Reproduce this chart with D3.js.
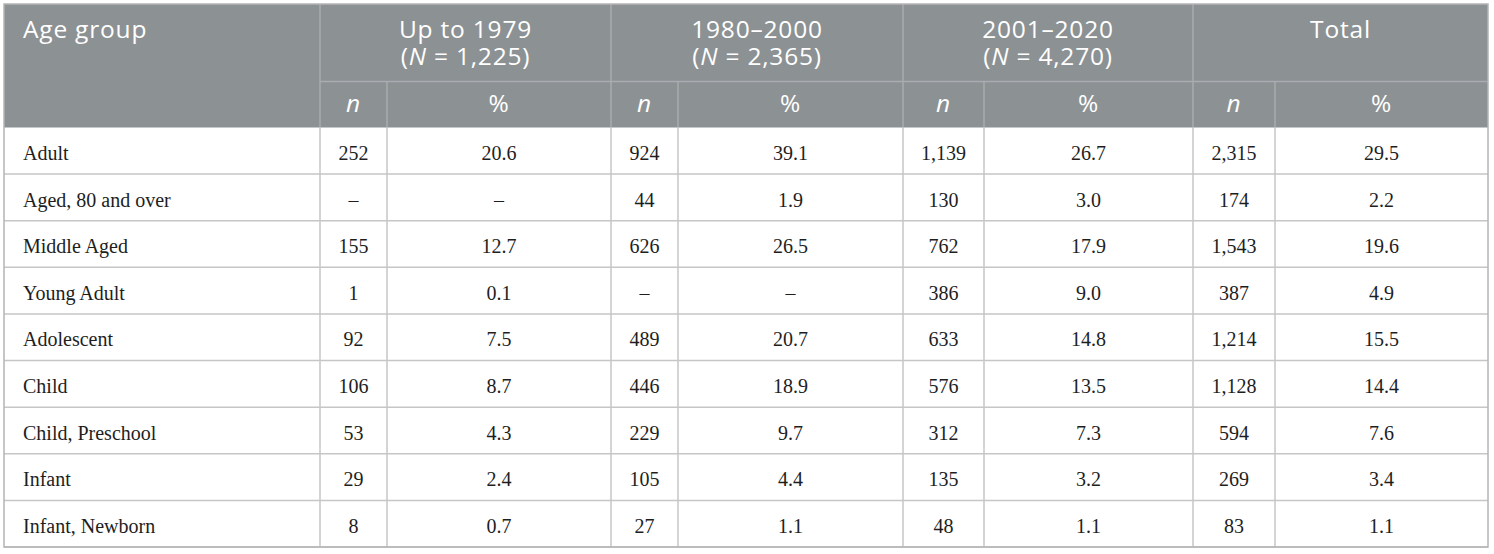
<!DOCTYPE html>
<html>
<head>
<meta charset="utf-8">
<script src="https://cdn.jsdelivr.net/npm/d3@7"></script>
<style>
  body { margin: 0; background: #fff; }
  svg { display: block; }
</style>
</head>
<body>
<script>
// Table contents
const ageGroups = ["Adult", "Aged, 80 and over", "Middle Aged", "Young Adult", "Adolescent",
  "Child", "Child, Preschool", "Infant", "Infant, Newborn"];
const periods = ["Up to 1979", "1980\u20132000", "2001\u20132020", "Total"];
const periodN = ["1,225", "2,365", "4,270", null];
const nUpTo1979 = ["252", "\u2013", "155", "1", "92", "106", "53", "29", "8"];
const pctUpTo1979 = ["20.6", "\u2013", "12.7", "0.1", "7.5", "8.7", "4.3", "2.4", "0.7"];
const n1980 = ["924", "44", "626", "\u2013", "489", "446", "229", "105", "27"];
const pct1980 = ["39.1", "1.9", "26.5", "\u2013", "20.7", "18.9", "9.7", "4.4", "1.1"];
const n2001 = ["1,139", "130", "762", "386", "633", "576", "312", "135", "48"];
const pct2001 = ["26.7", "3.0", "17.9", "9.0", "14.8", "13.5", "7.3", "3.2", "1.1"];
const nTotal = ["2,315", "174", "1,543", "387", "1,214", "1,128", "594", "269", "83"];
const pctTotal = ["29.5", "2.2", "19.6", "4.9", "15.5", "14.4", "7.6", "3.4", "1.1"];

const dataCols = [nUpTo1979, pctUpTo1979, n1980, pct1980, n2001, pct2001, nTotal, pctTotal];

const W = 1494, H = 554;
// column edges (px)
const colEdges = [4, 320, 387, 611, 678, 903, 984, 1193, 1275, 1488];
const tableTop = 4, superBottom = 81.5, headBottom = 127.5, tableBottom = 547;

const rowY = d3.scaleBand()
  .domain(ageGroups)
  .range([headBottom, tableBottom]);

const headFont = "'Open Sans', Lato, sans-serif";
const bodyFont = "'Liberation Serif', 'DejaVu Serif', serif";
const headBg = "#8c9194";
const headLine = "#a9adaf";
const grid = "#c6c6c6";

const svg = d3.select("body").append("svg")
  .attr("width", W)
  .attr("height", H);

function headText(x, y, anchor) {
  return svg.append("text")
    .attr("x", x).attr("y", y)
    .attr("text-anchor", anchor)
    .attr("font-family", headFont).attr("font-size", 24.5)
    .attr("letter-spacing", 0.8)
    .attr("fill", "#fff");
}

// header background
svg.append("rect")
  .attr("x", colEdges[0]).attr("y", tableTop)
  .attr("width", colEdges[9] - colEdges[0])
  .attr("height", headBottom - tableTop)
  .attr("fill", headBg);

// header lines
svg.append("line")
  .attr("x1", colEdges[1]).attr("x2", colEdges[9])
  .attr("y1", superBottom).attr("y2", superBottom)
  .attr("stroke", headLine).attr("stroke-width", 1.5);

[1, 3, 5, 7].forEach(i => {
  svg.append("line")
    .attr("x1", colEdges[i]).attr("x2", colEdges[i])
    .attr("y1", tableTop).attr("y2", headBottom)
    .attr("stroke", headLine).attr("stroke-width", 1.5);
});
[2, 4, 6, 8].forEach(i => {
  svg.append("line")
    .attr("x1", colEdges[i]).attr("x2", colEdges[i])
    .attr("y1", superBottom).attr("y2", headBottom)
    .attr("stroke", headLine).attr("stroke-width", 1.5);
});

// header text
headText(23, 38, "start").text("Age group");

periods.forEach((p, i) => {
  const cx = (colEdges[1 + i * 2] + colEdges[3 + i * 2]) / 2;
  headText(cx, 38, "middle").text(p);
  if (periodN[i]) {
    const t = headText(cx, 65, "middle");
    t.append("tspan").text("(");
    t.append("tspan").attr("font-style", "italic").text("N");
    t.append("tspan").text(" = " + periodN[i] + ")");
  }
  ["n", "%"].forEach((s, j) => {
    headText((colEdges[1 + i * 2 + j] + colEdges[2 + i * 2 + j]) / 2, 111.5, "middle")
      .attr("font-style", s === "n" ? "italic" : "normal")
      .text(s);
  });
});

// body grid
const rows = svg.append("g");
ageGroups.forEach((g, r) => {
  const y = rowY(g);
  rows.append("line")
    .attr("x1", colEdges[0]).attr("x2", colEdges[9])
    .attr("y1", y + rowY.bandwidth()).attr("y2", y + rowY.bandwidth())
    .attr("stroke", grid).attr("stroke-width", 1.5);

  rows.append("text")
    .attr("x", 23).attr("y", y + rowY.bandwidth() / 2)
    .attr("dy", "0.46em")
    .attr("font-family", bodyFont).attr("font-size", 20)
    .attr("fill", "#1e1e1e")
    .text(g);

  dataCols.forEach((col, c) => {
    rows.append("text")
      .attr("x", (colEdges[c + 1] + colEdges[c + 2]) / 2)
      .attr("y", y + rowY.bandwidth() / 2)
      .attr("dy", "0.46em")
      .attr("text-anchor", "middle")
      .attr("font-family", bodyFont).attr("font-size", 20)
      .attr("fill", "#1e1e1e")
      .text(col[r]);
  });
});

colEdges.slice(1, 9).forEach(x => {
  rows.append("line")
    .attr("x1", x).attr("x2", x)
    .attr("y1", headBottom).attr("y2", tableBottom)
    .attr("stroke", grid).attr("stroke-width", 1.5);
});

// outer border
svg.append("rect")
  .attr("x", colEdges[0]).attr("y", tableTop)
  .attr("width", colEdges[9] - colEdges[0])
  .attr("height", tableBottom - tableTop)
  .attr("fill", "none")
  .attr("stroke", "#b4b4b4").attr("stroke-width", 1.5);
</script>
</body>
</html>
